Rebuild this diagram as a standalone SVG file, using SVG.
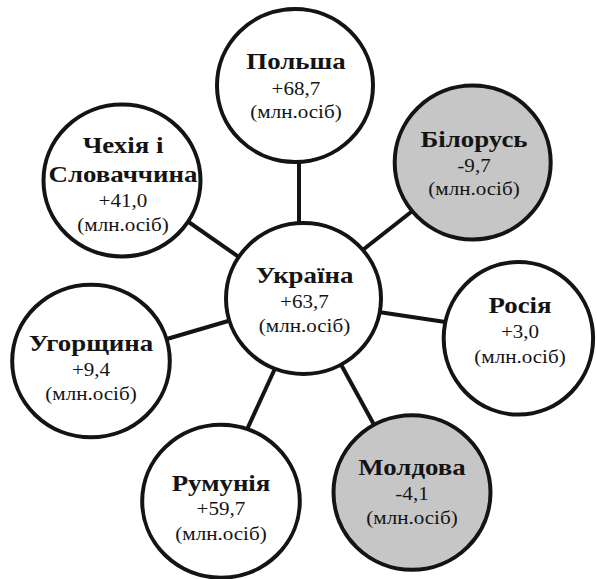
<svg xmlns="http://www.w3.org/2000/svg" width="597" height="579" viewBox="0 0 597 579">
<style>
.c{fill:#fff;stroke:#141414;stroke-width:4}
.g{fill:#c6c6c6}
.l{stroke:#141414;stroke-width:4;stroke-linecap:butt}
.t{font-family:'Liberation Serif','Times New Roman',serif;fill:#141414;text-anchor:middle}
.b{font-weight:bold;font-size:24px}
.r{font-size:18.5px}
</style>
<rect width="597" height="579" fill="#fff"/>
<g id="connectors">
<line class="l" x1="299" y1="150" x2="299" y2="235"/>
<line class="l" x1="180" y1="216" x2="246" y2="262"/>
<line class="l" x1="420" y1="205" x2="355" y2="256"/>
<line class="l" x1="160" y1="341" x2="235" y2="319"/>
<line class="l" x1="372" y1="311" x2="452" y2="323"/>
<line class="l" x1="278" y1="362" x2="244" y2="436"/>
<line class="l" x1="338" y1="359" x2="378" y2="432"/>
</g>
<g id="poland">
<ellipse class="c" cx="295" cy="85.5" rx="78" ry="76.5"/>
<g class="t">
<text class="b" transform="translate(296,68.5) scale(1.12,1)">Польша</text>
<text class="r" transform="translate(296,95) scale(1.14,1)">+68,7</text>
<text class="r" transform="translate(296,118) scale(1.14,1)">(млн.осіб)</text>
</g>
</g>
<g id="czechoslovakia">
<ellipse class="c" cx="122" cy="180.5" rx="78.5" ry="76"/>
<g class="t">
<text class="b" transform="translate(123,153) scale(1.12,1)">Чехія і</text>
<text class="b" transform="translate(123,182) scale(1.12,1)">Словаччина</text>
<text class="r" transform="translate(123,207) scale(1.14,1)">+41,0</text>
<text class="r" transform="translate(123,231) scale(1.14,1)">(млн.осіб)</text>
</g>
</g>
<g id="belarus">
<ellipse class="c g" cx="472.7" cy="162.5" rx="78" ry="77"/>
<g class="t">
<text class="b" transform="translate(474,146.5) scale(1.12,1)">Білорусь</text>
<text class="r" transform="translate(474,171.5) scale(1.14,1)">-9,7</text>
<text class="r" transform="translate(474,195) scale(1.14,1)">(млн.осіб)</text>
</g>
</g>
<g id="ukraine">
<ellipse class="c" cx="303.5" cy="298.5" rx="77.5" ry="75.5"/>
<g class="t">
<text class="b" transform="translate(304.5,283.3) scale(1.12,1)">Україна</text>
<text class="r" transform="translate(304.5,308.3) scale(1.14,1)">+63,7</text>
<text class="r" transform="translate(304.5,332) scale(1.14,1)">(млн.осіб)</text>
</g>
</g>
<g id="russia">
<ellipse class="c" cx="518.4" cy="338.3" rx="74.7" ry="76.3"/>
<g class="t">
<text class="b" transform="translate(520,313) scale(1.12,1)">Росія</text>
<text class="r" transform="translate(520,338) scale(1.14,1)">+3,0</text>
<text class="r" transform="translate(520,363) scale(1.14,1)">(млн.осіб)</text>
</g>
</g>
<g id="hungary">
<ellipse class="c" cx="91" cy="361" rx="78.8" ry="76.3"/>
<g class="t">
<text class="b" transform="translate(91,350.5) scale(1.12,1)">Угорщина</text>
<text class="r" transform="translate(91,376) scale(1.14,1)">+9,4</text>
<text class="r" transform="translate(91,400) scale(1.14,1)">(млн.осіб)</text>
</g>
</g>
<g id="romania">
<ellipse class="c" cx="221" cy="501.2" rx="78.8" ry="76.5"/>
<g class="t">
<text class="b" transform="translate(221,490.5) scale(1.12,1)">Румунія</text>
<text class="r" transform="translate(221,515) scale(1.14,1)">+59,7</text>
<text class="r" transform="translate(221,540) scale(1.14,1)">(млн.осіб)</text>
</g>
</g>
<g id="moldova">
<ellipse class="c g" cx="412" cy="492.5" rx="78.5" ry="77.2"/>
<g class="t">
<text class="b" transform="translate(412,475) scale(1.12,1)">Молдова</text>
<text class="r" transform="translate(412,500) scale(1.14,1)">-4,1</text>
<text class="r" transform="translate(412,524) scale(1.14,1)">(млн.осіб)</text>
</g>
</g>
</svg>
